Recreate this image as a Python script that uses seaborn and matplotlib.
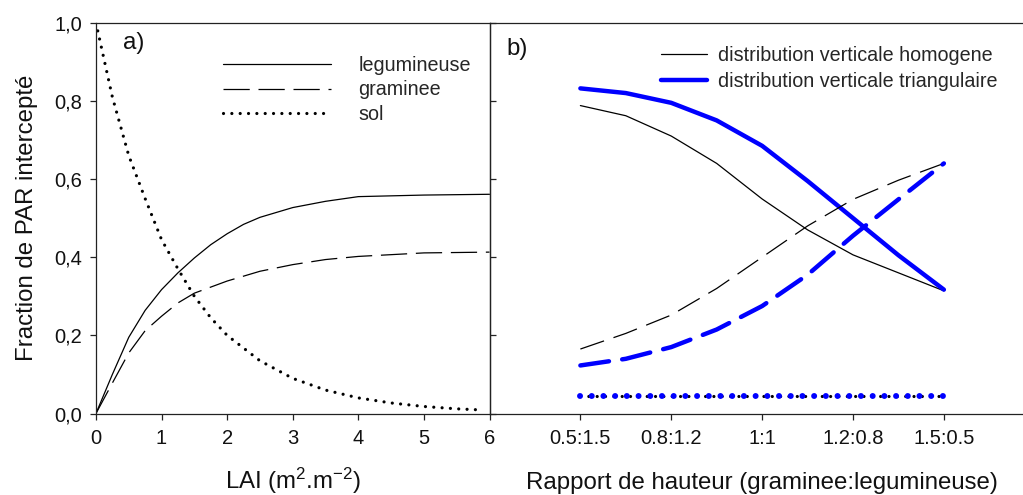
import matplotlib
matplotlib.use("Agg")
import matplotlib.pyplot as plt
import seaborn as sns

# ---------------- data: panel a) ----------------
lai_leg = [0, 0.25, 0.5, 0.75, 1, 1.25, 1.5, 1.75, 2, 2.25, 2.5, 3, 3.5, 4, 5, 6]
legumineuse = [0, 0.10, 0.195, 0.264, 0.317, 0.36, 0.398, 0.432, 0.460, 0.484,
               0.502, 0.527, 0.543, 0.555, 0.559, 0.561]
lai_gram = [0, 0.25, 0.5, 0.75, 1, 1.25, 1.5, 2, 2.5, 3, 3.5, 4, 5, 6]
graminee = [0, 0.078, 0.155, 0.212, 0.249, 0.283, 0.308, 0.339, 0.364, 0.381,
            0.394, 0.402, 0.411, 0.413]
lai_sol = [0, 0.25, 0.5, 0.75, 1, 1.25, 1.5, 1.75, 2, 2.5, 3, 3.5, 4, 4.5, 5, 5.5, 5.9]
sol = [1.0, 0.81, 0.66, 0.55, 0.445, 0.37, 0.30, 0.245, 0.20, 0.135, 0.09, 0.06,
       0.04, 0.027, 0.018, 0.012, 0.009]

# ---------------- data: panel b) ----------------
rapport = [1, 1.5, 2, 2.5, 3, 3.5, 4, 4.5, 5]
leg_homogene = [0.788, 0.762, 0.71, 0.64, 0.549, 0.47, 0.406, 0.36, 0.314]
leg_triang = [0.832, 0.820, 0.795, 0.750, 0.685, 0.595, 0.50, 0.405, 0.317]
gram_homogene = [0.165, 0.205, 0.252, 0.32, 0.40, 0.48, 0.548, 0.597, 0.64]
gram_triang = [0.123, 0.14, 0.17, 0.215, 0.275, 0.355, 0.455, 0.548, 0.64]
sol_b_x = [1, 5]
sol_homogene = [0.046, 0.046]
sol_triang = [0.046, 0.046]

rapport_ticks = [1, 2, 3, 4, 5]
rapport_labels = ["0.5:1.5", "0.8:1.2", "1:1", "1.2:0.8", "1.5:0.5"]
lai_ticks = [0, 1, 2, 3, 4, 5, 6]
frac_ticks = [0.0, 0.2, 0.4, 0.6, 0.8, 1.0]
frac_labels = ["0,0", "0,2", "0,4", "0,6", "0,8", "1,0"]

sns.set_style("ticks")
plt.rcParams["font.family"] = ["Liberation Sans", "DejaVu Sans"]
plt.rcParams["mathtext.fontset"] = "custom"
plt.rcParams["mathtext.rm"] = "Liberation Sans"
plt.rcParams["mathtext.it"] = "Liberation Sans"
plt.rcParams["axes.edgecolor"] = "#222222"
plt.rcParams["axes.linewidth"] = 0.9

BLUE = "#0000ff"
fig = plt.figure(figsize=(10.23, 4.95), dpi=100)
ax1 = fig.add_axes([0.0938, 0.1646, 0.3847, 0.7895])
ax2 = fig.add_axes([0.4785, 0.1646, 0.533, 0.7895])
ax2.patch.set_alpha(0)

# ---- panel a)
sns.lineplot(x=lai_leg, y=legumineuse, ax=ax1, color="black", linewidth=0.9,
             label="legumineuse")
sns.lineplot(x=lai_gram, y=graminee, ax=ax1, color="black", linewidth=0.9,
             linestyle=(0, (21, 7)), label="graminee")
sns.lineplot(x=lai_sol, y=sol, ax=ax1, color="black", linewidth=2.3,
             linestyle=(0, (0.01, 2.6)), dash_capstyle="round", label="sol")
ax1.set_xlim(0, 6)
ax1.set_ylim(0, 1)
ax1.set_xticks(lai_ticks)
ax1.set_yticks(frac_ticks)
ax1.set_yticklabels(frac_labels)
ax1.tick_params(axis="both", direction="out", length=4, width=0.9,
                labelsize=14.5, color="#222222", labelcolor="#111111")
ax1.tick_params(axis="x", pad=7)
ax1.tick_params(axis="y", pad=6, right=True, labelright=False)
ax1.set_xlabel("LAI (m$^2$.m$^{-2}$)", fontsize=17.3, va="baseline",
               color="#111111")
ax1.xaxis.set_label_coords(0.5, -0.1925)
ax1.set_ylabel("Fraction de PAR intercepté", fontsize=17.3, labelpad=12,
               color="#111111")
ax1.text(0.069, 0.948, "a)", transform=ax1.transAxes, fontsize=17.3,
         ha="left", va="center", color="#111111")
ax1.legend(loc="upper left", bbox_to_anchor=(0.322, 0.916), frameon=False,
           fontsize=14.2, handlelength=5.5, handletextpad=1.37,
           labelspacing=0.30, borderpad=0, borderaxespad=0)

# ---- panel b)
sns.lineplot(x=rapport, y=leg_homogene, ax=ax2, color="black", linewidth=0.9,
             label="distribution verticale homogene")
sns.lineplot(x=rapport, y=leg_triang, ax=ax2, color=BLUE, linewidth=3.2,
             solid_capstyle="round", label="distribution verticale triangulaire")
sns.lineplot(x=rapport, y=gram_homogene, ax=ax2, color="black", linewidth=0.9,
             linestyle=(0, (20, 8)))
sns.lineplot(x=rapport, y=gram_triang, ax=ax2, color=BLUE, linewidth=3.2,
             linestyle=(0, (6.5, 3)), dash_capstyle="round")
sns.lineplot(x=sol_b_x, y=sol_homogene, ax=ax2, color="black", linewidth=2.3,
             linestyle=(0, (0.01, 2.6)), dash_capstyle="round")
sns.lineplot(x=sol_b_x, y=sol_triang, ax=ax2, color=BLUE, linewidth=4.3,
             linestyle=(0, (0.01, 1.95)), dash_capstyle="round")
ax2.set_xlim(0, 6)
ax2.set_ylim(0, 1)
ax2.set_xticks(rapport_ticks)
ax2.set_xticklabels(rapport_labels)
ax2.tick_params(axis="x", direction="out", length=4, width=0.9, labelsize=14.5,
                pad=7, color="#222222", labelcolor="#111111")
ax2.tick_params(axis="y", left=False, labelleft=False)
ax2.set_xlabel("Rapport de hauteur (graminee:legumineuse)", fontsize=17.3,
               va="baseline", color="#111111")
ax2.xaxis.set_label_coords(0.5, -0.1925)
ax2.set_ylabel("")
ax2.spines["right"].set_visible(False)
ax2.text(0.031, 0.932, "b)", transform=ax2.transAxes, fontsize=17.3,
         ha="left", va="center", color="#111111")
ax2.legend(loc="upper left", bbox_to_anchor=(0.315, 0.940), frameon=False,
           fontsize=14.2, handlelength=2.3, handletextpad=0.58,
           labelspacing=0.33, borderpad=0, borderaxespad=0)

fig.savefig("out.png", dpi=100)
